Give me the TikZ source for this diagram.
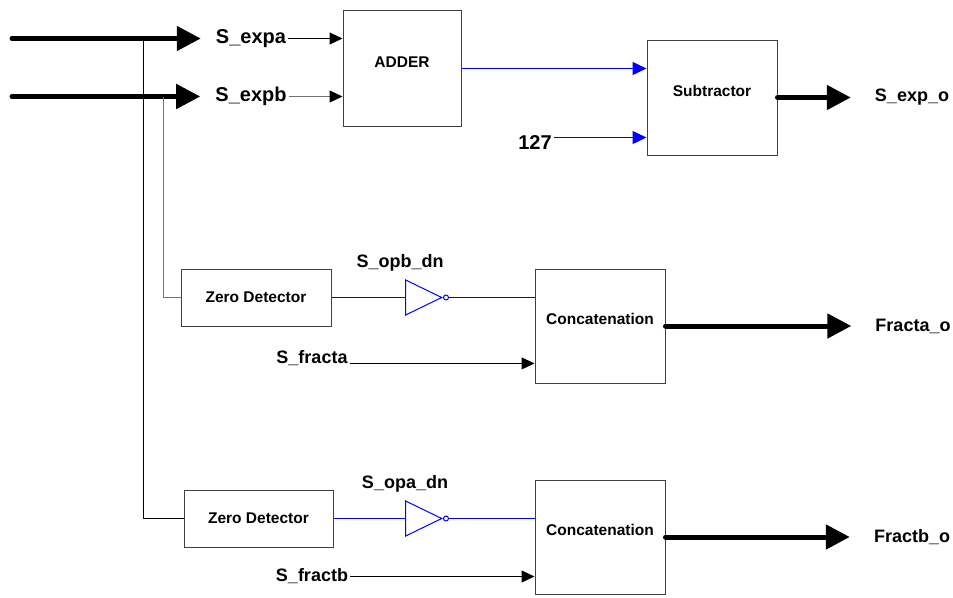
\documentclass[tikz,border=0pt]{standalone}
\usepackage{fontspec}
\setmainfont{Liberation Sans}
\usetikzlibrary{arrows.meta,shapes.geometric}

\begin{document}
\begin{tikzpicture}[x=1pt,y=-1pt,
    block/.style={draw=black!75,line width=1pt,inner sep=0pt,font=\fontsize{15.5}{18}\selectfont\bfseries},
    bigblock/.style={block,minimum width=130pt,minimum height=114pt,text height=10pt,text depth=13pt},
    zeroblock/.style={block,minimum width=150pt,minimum height=57pt},
    sig/.style={inner sep=2pt,font=\fontsize{18}{21}\selectfont\bfseries},
    siglarge/.style={inner sep=2pt,font=\fontsize{20}{24}\selectfont\bfseries},
    bus/.style={line width=5pt,line cap=round,-{Triangle[length=24pt,width=24pt]}},
    wire/.style={line width=1pt},
    bluewire/.style={line width=1.4pt,blue},
    thin/.style={wire,-{Triangle[length=13pt,width=12pt,black]}},
    bluearrow/.style={bluewire,-{Triangle[length=14pt,width=13pt]}},
    inv/.style={draw=blue,line width=1pt,shape=isosceles triangle,isosceles triangle stretches,minimum width=35pt,minimum height=36pt,inner sep=0pt,anchor=apex},
    bubble/.style={draw=blue,line width=1pt,circle,minimum size=5pt,inner sep=0pt,anchor=west}
]
\useasboundingbox (0,0) rectangle (953,597);

% Exponent path
\coordinate (ina) at (12,38.5);
\coordinate (inb) at (12,96.5);
\node[siglarge] (expa) at (251,38.5) {S\_expa};
\node[siglarge] (expb) at (251,96.5) {S\_expb};
\node[bigblock,minimum width=118pt,minimum height=116pt] (adder) at (402,68.5) {ADDER};
\node[bigblock,minimum height=115pt] (sub) at (712,97.5) {Subtractor};
\node[siglarge] (c127) at (535,142.5) {127};
\node[sig] (expo) at (912,97.5) {S\_exp\_o};

\draw[bus,shorten >=13pt] (ina) -- (expa);
\draw[bus,shorten >=13pt] (inb) -- (expb);
\draw[thin] (expa) -- (adder.west |- expa);
\draw[thin,gray!90!black,line width=1.2pt] (expb) -- (adder.west |- expb);
\draw[bluearrow] (adder) -- (sub.west |- adder);
\path ([yshift=5pt]c127.east) coordinate (k127);
\draw[bluearrow] (k127) -- (sub.west |- k127);
\draw[bus,shorten >=22pt] (sub) -- (expo);

% Fraction a
\node[zeroblock] (zd1) at (256,297.5) {Zero Detector};
\node[inv] (inv1) at (443,297.5) {};
\node[bubble] (bub1) at (inv1.apex) {};
\node[sig] (opbdn) at (400,263) {S\_opb\_dn};
\node[bigblock] (concat1) at (600,326) {Concatenation};
\node[sig] (fracta) at (312,358) {S\_fracta};
\node[sig] (fractao) at (913,326) {Fracta\_o};

\coordinate (tapb) at (163.5,96.5);
\draw[gray!90!black,line width=1.2pt] (tapb) |- (zd1);
\draw[bluewire] (zd1) -- (inv1);
\draw[bluewire] (bub1) -- (concat1.west |- bub1);
\draw[thin] (fracta.base east) -- (concat1.west |- fracta.base east);
\draw[bus,shorten >=22pt] (concat1) -- (fractao);

% Fraction b
\node[zeroblock,minimum width=149pt] (zd2) at (258.5,518.5) {Zero Detector};
\node[inv] (inv2) at (443,518.5) {};
\node[bubble] (bub2) at (inv2.apex) {};
\node[sig] (opadn) at (405,484) {S\_opa\_dn};
\node[bigblock] (concat2) at (600,537) {Concatenation};
\node[sig] (fractb) at (312,576.5) {S\_fractb};
\node[sig] (fractbo) at (912,537) {Fractb\_o};

\coordinate (tapa) at (143.5,38.5);
\draw[wire] (tapa) |- (zd2);
\draw[bluewire] (zd2) -- (inv2);
\draw[bluewire] (bub2) -- (concat2.west |- bub2);
\draw[thin] (fractb) -- (concat2.west |- fractb);
\draw[bus,shorten >=22pt] (concat2) -- (fractbo);

\end{tikzpicture}
\end{document}
